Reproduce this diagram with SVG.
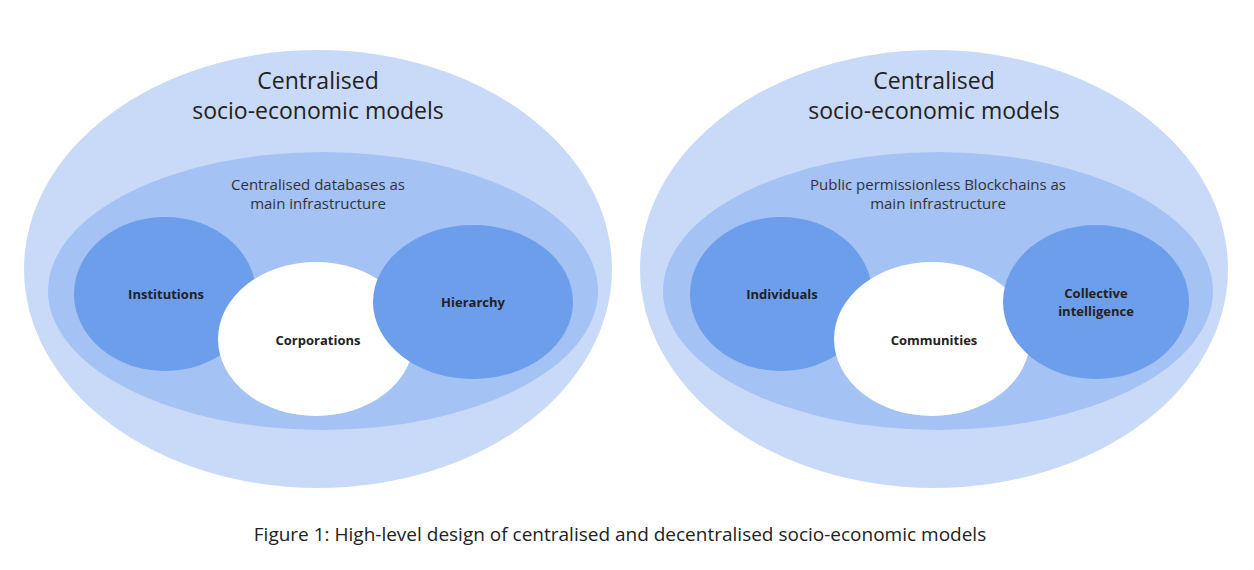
<svg xmlns="http://www.w3.org/2000/svg" width="1254" height="570" viewBox="0 0 1254 570">
<style>
.o{fill:#c9daf8}.m{fill:#a4c2f4}.i{fill:#6d9eeb}.w{fill:#ffffff}
text{font-family:"Open Sans","Liberation Sans",sans-serif;fill:#222;text-anchor:middle}
.t{font-size:23px;font-weight:500}.s{font-size:15px;fill:#333}.n{font-size:13px;font-weight:700}.c{font-size:19px}
</style>
<rect width="1254" height="570" fill="#fff"/>
<g id="left">
<ellipse class="o" cx="318" cy="269" rx="294" ry="219"/>
<ellipse class="m" cx="323" cy="291" rx="275" ry="139"/>
<text class="t" x="318" y="89">Centralised</text>
<text class="t" x="318" y="119">socio-economic models</text>
<text class="s" x="318" y="190">Centralised databases as</text>
<text class="s" x="318" y="209">main infrastructure</text>
</g>
<g id="institutions"><ellipse class="i" cx="165" cy="294" rx="91" ry="77"/><text class="n" x="166" y="299">Institutions</text></g>
<g id="corporations"><ellipse class="w" cx="316" cy="339" rx="98" ry="77"/><text class="n" x="318" y="345">Corporations</text></g>
<g id="hierarchy"><ellipse class="i" cx="473" cy="302" rx="100" ry="77"/><text class="n" x="473" y="307">Hierarchy</text></g>
<g id="right">
<ellipse class="o" cx="934" cy="269" rx="294" ry="219"/>
<ellipse class="m" cx="938" cy="291" rx="275" ry="139"/>
<text class="t" x="934" y="89">Centralised</text>
<text class="t" x="934" y="119">socio-economic models</text>
<text class="s" x="938" y="190">Public permissionless Blockchains as</text>
<text class="s" x="938" y="209">main infrastructure</text>
</g>
<g id="individuals"><ellipse class="i" cx="781" cy="294" rx="91" ry="77"/><text class="n" x="782" y="299">Individuals</text></g>
<g id="communities"><ellipse class="w" cx="932" cy="339" rx="98" ry="77"/><text class="n" x="934" y="345">Communities</text></g>
<g id="collective"><ellipse class="i" cx="1096" cy="302" rx="93" ry="77"/><text class="n" x="1096" y="298">Collective</text><text class="n" x="1096" y="316">intelligence</text></g>
<g id="connectors"/>
<text class="c" x="620" y="541">Figure 1: High-level design of centralised and decentralised socio-economic models</text>
</svg>
